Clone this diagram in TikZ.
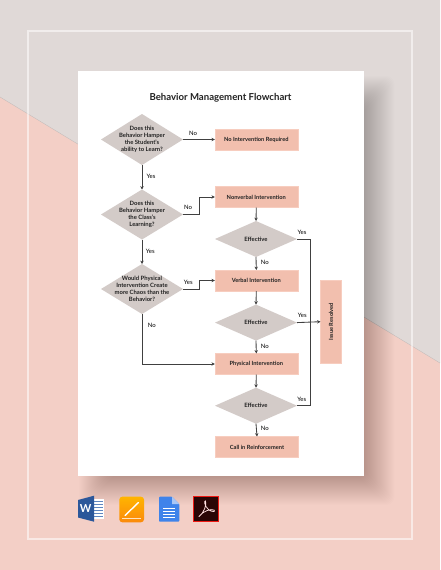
\documentclass[tikz,border=0pt]{standalone}
\usepackage{fontspec}
\setmainfont{Lato}
\usetikzlibrary{shapes.geometric,arrows.meta}
\definecolor{bgpink}{HTML}{F3CFC6}
\definecolor{bggray}{HTML}{E0D9D7}
\definecolor{boxfill}{HTML}{F2BFAE}
\definecolor{boxedge}{HTML}{F7CDBF}
\definecolor{diafill}{HTML}{D3CBC8}
\definecolor{ink}{HTML}{222222}
\definecolor{wire}{HTML}{404040}
\definecolor{wordblue}{HTML}{2B579A}
\definecolor{wordline}{HTML}{5F86C0}
\definecolor{pagestop}{HTML}{FFB400}
\definecolor{pagesbot}{HTML}{FB8A0C}
\definecolor{docsblue}{HTML}{3F83EA}
\definecolor{docsfold}{HTML}{A9C6F5}
\definecolor{acrodark}{HTML}{2A0606}
\definecolor{acrored}{HTML}{EE1A14}
\tikzset{
  x=1pt,y=-1pt,
  txt/.style={font=\fontsize{5.7}{7}\selectfont\bfseries,text=ink,align=center,inner sep=0,outer sep=0},
  dia/.style={shape=diamond,fill=diafill,inner sep=0,outer sep=0,minimum width=82pt,minimum height=#1},
  dia/.default=51pt,
  dialab/.style={txt,font=\fontsize{5.9}{7}\selectfont\bfseries,label distance=0pt},
  boxn/.style={draw=boxedge,fill=boxfill,line width=.6pt,minimum width=83pt,minimum height=21pt,inner sep=0,outer sep=0,txt},
  lab/.style={font=\fontsize{6}{7}\selectfont,text=black,inner sep=0,outer sep=0},
  arr/.style={draw=wire,line width=.85pt,-{Stealth[length=3.4pt,width=3.4pt]}},
  wirel/.style={draw=wire,line width=.85pt},
}
\begin{document}
\begin{tikzpicture}
\useasboundingbox (0,0) rectangle (440,570);
% background
\fill[bgpink] (0,0) rectangle (440,570);
\fill[bggray] (0,0) -- (440,0) -- (440,363) -- (0,97) -- cycle;
\draw[black!35,line width=.3pt,opacity=.6] (0,97) -- (440,363);
% frame
\draw[white,opacity=.55,line width=2pt] (28,30.5) rectangle (412,539);
% shadow
\foreach \i in {0,...,29}{
  \fill[black,opacity=.0095,rounded corners=8pt]
    (108-\i,105-\i) rectangle (364+\i*1.05,476+\i);
}
% paper
\fill[white] (78,71) rectangle (364,476);
\node[font=\fontsize{9.6}{12}\selectfont\bfseries,text=ink,inner sep=0] (title) at (220.5,98) {Behavior Management Flowchart};
% decisions
\node[dia,label={[dialab]center:Does this\\Behavior Hamper\\the Student's\\ability to Learn?}] (d1) at (142,139.5) {};
\node[dia=50pt,label={[dialab]center:Does this\\Behavior Hamper\\the Class's\\Learning?}] (d2) at (142,214.5) {};
\node[dia=50pt,label={[dialab]center:Would Physical\\Intervention Create\\more Chaos than the\\Behavior?}] (d3) at (142,289) {};
\node[dia=36pt,label={[dialab]center:Effective}] (e1) at (256,239) {};
\node[dia=36pt,label={[dialab]center:Effective}] (e2) at (256,322.6) {};
\node[dia=36pt,label={[dialab]center:Effective}] (e3) at (256,405.7) {};
% boxes
\node[boxn] (b1) at (256.3,139.5) {No Intervention Required};
\node[boxn] (b2) at (256.3,197) {Nonverbal Intervention};
\node[boxn] (b3) at (256.3,280.5) {Verbal Intervention};
\node[boxn] (b4) at (256.3,364) {Physical Intervention};
\node[boxn] (b5) at (257,447) {Call in Reinforcement};
\node[boxn,rotate=90] (issue) at (331,321.7) {Issue Resolved};
% connectors
\draw[arr] (d1.east) -- (b1.west);
\draw[arr] (d1.south) -- (d2.north);
\coordinate (j2) at (199,214.5);
\draw[arr] (d2.east) -- (j2) |- (b2.west);
\draw[arr] (d2.south) -- (d3.north);
\coordinate (j3) at (199,289);
\draw[arr] (d3.east) -- (j3) |- (b3.west);
\draw[arr] (d3.south) |- (b4.west);
\draw[arr] (b2.south) -- (e1.north);
\draw[arr] (e1.south) -- (b3.north);
\draw[arr] (b3.south) -- (e2.north);
\draw[arr] (e2.south) -- (b4.north);
\draw[arr] (b4.south) -- (e3.north);
\draw[arr] (e3.south) -- (b5.north);
\coordinate (bus) at (310.7,322.6);
\draw[wirel] (e1.east) -| (bus);
\draw[wirel] (e3.east) -| (bus);
\draw[arr] (e2.east) -- (issue.north);
% labels
\node[lab] (l1) at (193,133.5) {No};
\node[lab] (l2) at (151,176.3) {Yes};
\node[lab] (l3) at (188,207.3) {No};
\node[lab] (l4) at (150.3,251.3) {Yes};
\node[lab] (l5) at (302,232.3) {Yes};
\node[lab] (l6) at (264.7,262.3) {No};
\node[lab] (l7) at (188.3,282.3) {Yes};
\node[lab] (l8) at (151.7,325) {No};
\node[lab] (l9) at (302.3,315) {Yes};
\node[lab] (l10) at (264.7,346) {No};
\node[lab] (l11) at (301.7,399) {Yes};
\node[lab] (l12) at (264.7,428) {No};
% Word icon
\fill[white] (92,499) rectangle (104,518.5);
\foreach \yy in {501.5,504.5,507.5,510.5,513.5,516.2}{
  \draw[wordline,line width=1.2pt] (93,\yy) -- (103,\yy);
}
\fill[wordblue] (78,500) -- (94,495.7) -- (94,521.7) -- (78,517.5) -- cycle;
\node[font=\fontsize{11}{11}\selectfont\bfseries,text=white,inner sep=0] (wordw) at (85.7,508.7) {W};
% Pages icon
\shade[rounded corners=3pt,top color=pagestop,bottom color=pagesbot] (119.3,496.7) rectangle (144,522.3);
\draw[white,line width=1.4pt,line cap=round] (125,515.5) -- (138.5,502.5);
\draw[white,opacity=.75,line width=.7pt] (122,518) -- (141,518);
% Docs icon
\fill[docsblue,rounded corners=.8pt] (159,496.7) -- (172,496.7) -- (179.3,504) -- (179.3,521.7) -- (159,521.7) -- cycle;
\fill[docsfold] (172,496.7) -- (179.3,504) -- (172,504) -- cycle;
\foreach \yy in {508,511,514,517}{
  \draw[white,line width=.9pt] (163,\yy) -- (175,\yy);
}
% Acrobat icon
\fill[acrodark,draw=acrored,line width=1pt] (193.8,496.2) rectangle (218.8,521.2);
\draw[white!88!red,line width=.75pt,line cap=round] (199,516.5) .. controls (204,513) and (207,504) .. (205.5,501) .. controls (204,500) and (204,506) .. (209,510) .. controls (212,512) and (216,512) .. (214,510) .. controls (211,508.5) and (203,511) .. (199,516.5);
\end{tikzpicture}
\end{document}
